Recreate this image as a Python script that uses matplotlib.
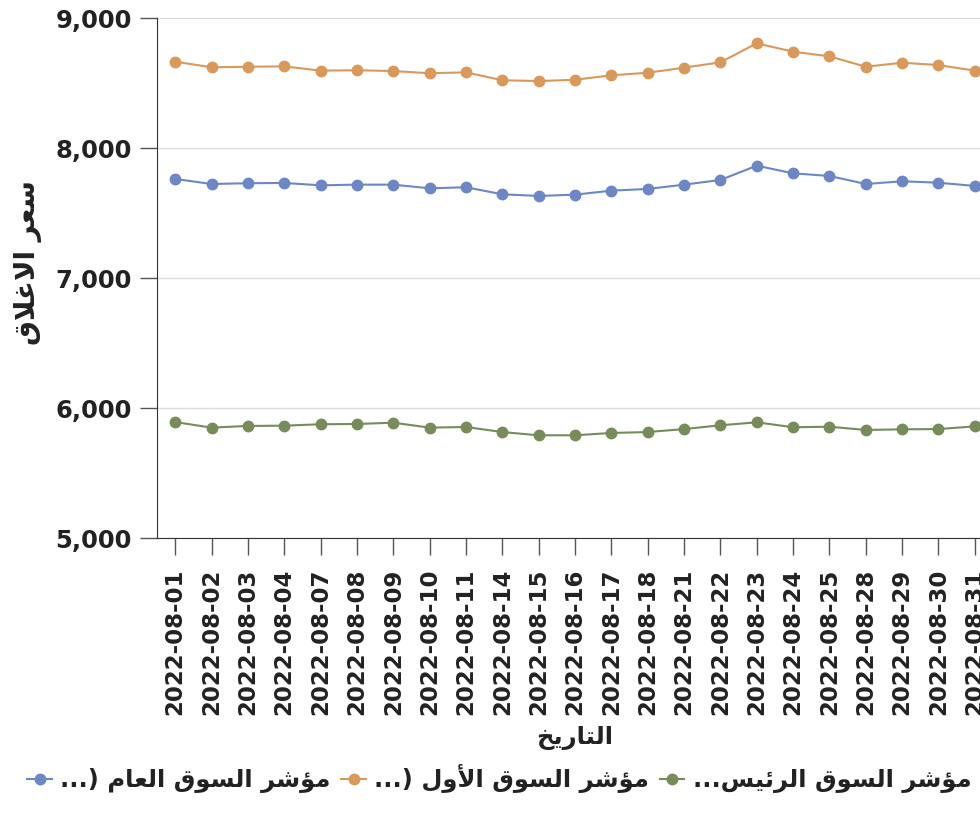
import matplotlib
matplotlib.use("Agg")
import matplotlib.pyplot as plt

# Arabic presentation forms: (isolated, final, initial, medial)
FORMS = {
    'ا': ('\uFE8D', '\uFE8E'),
    'أ': ('\uFE83', '\uFE84'),
    'ؤ': ('\uFE85', '\uFE86'),
    'ئ': ('\uFE89', '\uFE8A', '\uFE8B', '\uFE8C'),
    'ت': ('\uFE95', '\uFE96', '\uFE97', '\uFE98'),
    'خ': ('\uFEA5', '\uFEA6', '\uFEA7', '\uFEA8'),
    'ر': ('\uFEAD', '\uFEAE'),
    'س': ('\uFEB1', '\uFEB2', '\uFEB3', '\uFEB4'),
    'ش': ('\uFEB5', '\uFEB6', '\uFEB7', '\uFEB8'),
    'ع': ('\uFEC9', '\uFECA', '\uFECB', '\uFECC'),
    'غ': ('\uFECD', '\uFECE', '\uFECF', '\uFED0'),
    'ق': ('\uFED5', '\uFED6', '\uFED7', '\uFED8'),
    'ل': ('\uFEDD', '\uFEDE', '\uFEDF', '\uFEE0'),
    'م': ('\uFEE1', '\uFEE2', '\uFEE3', '\uFEE4'),
    'و': ('\uFEED', '\uFEEE'),
    'ي': ('\uFEF1', '\uFEF2', '\uFEF3', '\uFEF4'),
}
LAM_ALEF = {'ا': ('\uFEFB', '\uFEFC'), 'أ': ('\uFEF7', '\uFEF8')}


# join letters and put them in visual (left to right) order
def ar(s):
    out = []
    i = 0
    while i < len(s):
        c = s[i]
        prev_joins = i > 0 and s[i - 1] in FORMS and len(FORMS[s[i - 1]]) == 4
        if c == 'ل' and i + 1 < len(s) and s[i + 1] in LAM_ALEF:
            out.append(LAM_ALEF[s[i + 1]][1 if prev_joins else 0])
            i += 2
            continue
        if c in FORMS:
            f = FORMS[c]
            next_ar = i + 1 < len(s) and s[i + 1] in FORMS
            if len(f) == 4 and next_ar:
                out.append(f[3] if prev_joins else f[2])
            else:
                out.append(f[1] if prev_joins else f[0])
        else:
            out.append(c)
        i += 1
    return ''.join(reversed(out)).translate(str.maketrans('()', ')('))


dates = ['2022-08-01', '2022-08-02', '2022-08-03', '2022-08-04', '2022-08-07',
         '2022-08-08', '2022-08-09', '2022-08-10', '2022-08-11', '2022-08-14',
         '2022-08-15', '2022-08-16', '2022-08-17', '2022-08-18', '2022-08-21',
         '2022-08-22', '2022-08-23', '2022-08-24', '2022-08-25', '2022-08-28',
         '2022-08-29', '2022-08-30', '2022-08-31']

general = [7762, 7723, 7729, 7731, 7713, 7718, 7718, 7690, 7698, 7644, 7631, 7641,
           7672, 7685, 7718, 7754, 7864, 7805, 7785, 7723, 7744, 7733, 7708]
first = [8664, 8621, 8625, 8628, 8595, 8598, 8592, 8575, 8582, 8521, 8515, 8525,
         8559, 8579, 8618, 8659, 8805, 8741, 8705, 8625, 8656, 8638, 8595]
main = [5892, 5849, 5862, 5864, 5875, 5877, 5887, 5849, 5854, 5815, 5790, 5790,
        5808, 5815, 5838, 5867, 5890, 5852, 5856, 5831, 5836, 5838, 5859]

names = ['مؤشر السوق العام (...', 'مؤشر السوق الأول (...', 'مؤشر السوق الرئيس...']
colors = ['#6d87c4', '#d9995b', '#778b5b']
y_ticks = [5000, 6000, 7000, 8000, 9000]

plt.rcParams['font.family'] = ['DejaVu Sans']
txt = '#222222'

fig = plt.figure(figsize=(9.8, 8.3), dpi=100)
ax = fig.add_axes([157 / 980, 292 / 830, 836 / 980, 520 / 830])

x = list(range(len(dates)))
for vals, name, col in zip([general, first, main], names, colors):
    ax.plot(x, vals, color=col, lw=1.5, marker='o', ms=7.5, mec=col, mfc=col,
            label=ar(name), clip_on=False, zorder=3)

ax.set_xlim(-0.5, len(dates) - 0.5)
ax.set_ylim(5000, 9000)
ax.set_yticks(y_ticks)
ax.set_yticklabels([f'{v:,}' for v in y_ticks], fontsize=17.5, fontweight='bold', color=txt)
ax.set_xticks(x)
ax.set_xticklabels(dates, rotation=90, fontsize=16.5, fontweight='bold', color=txt)
ax.tick_params(axis='both', length=12, width=1, color='#555555', pad=6)
ax.tick_params(axis='x', pad=10)
ax.grid(axis='y', color='#dddddd', lw=1)
ax.set_axisbelow(True)
for s in ['top', 'right']:
    ax.spines[s].set_visible(False)
for s in ['left', 'bottom']:
    ax.spines[s].set_color('#333333')

ax.set_ylabel(ar('سعر الاغلاق'), fontsize=20, fontweight='bold', color=txt)
ax.yaxis.set_label_coords(-0.137, 0.53)
ax.set_xlabel(ar('التاريخ'), fontsize=17.5, fontweight='bold', color=txt, labelpad=8)

fig.legend(loc='center left', bbox_to_anchor=(0.018, 0.062), ncol=3, frameon=False,
           prop={'size': 17.5, 'weight': 'bold'}, handlelength=1.0, handletextpad=0.35,
           columnspacing=0.45, labelcolor=txt, borderaxespad=0)

fig.savefig('out.png', dpi=100)
